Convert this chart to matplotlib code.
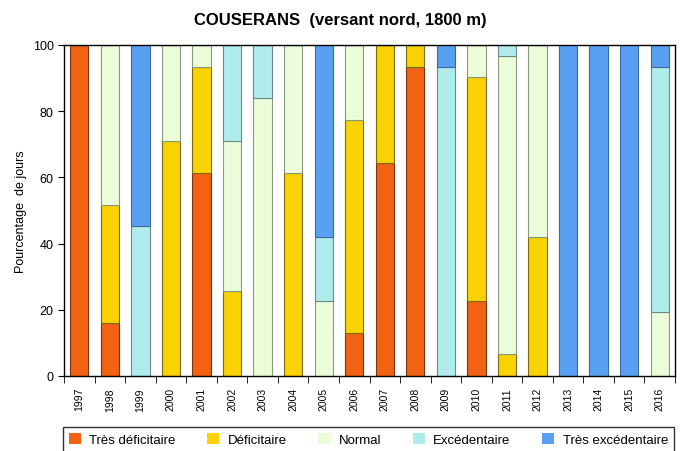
import matplotlib
matplotlib.use("Agg")
import matplotlib.pyplot as plt
import numpy as np

plt.rcParams['font.family'] = ['Liberation Sans', 'DejaVu Sans']

years = [str(y) for y in range(1997, 2017)]
tres_deficitaire = [100, 16.1, 0, 0, 61.3, 0, 0, 0, 0, 12.9, 64.5, 93.5, 0, 22.6, 0, 0, 0, 0, 0, 0]
deficitaire      = [0, 35.5, 0, 71.0, 32.2, 25.8, 0, 61.3, 0, 64.5, 35.5, 6.5, 0, 67.7, 6.5, 41.9, 0, 0, 0, 0]
normal           = [0, 48.4, 0, 29.0, 6.5, 45.2, 83.9, 38.7, 22.6, 22.6, 0, 0, 0, 9.7, 90.3, 58.1, 0, 0, 0, 19.4]
excedentaire     = [0, 0, 45.2, 0, 0, 29.0, 16.1, 0, 19.3, 0, 0, 0, 93.5, 0, 3.2, 0, 0, 0, 0, 74.1]
tres_excedentaire= [0, 0, 54.8, 0, 0, 0, 0, 0, 58.1, 0, 0, 0, 6.5, 0, 0, 0, 100, 100, 100, 6.5]

series = [
    ("Très déficitaire", tres_deficitaire, "#F26212", "#7a3208"),
    ("Déficitaire", deficitaire, "#FAD200", "#7a6a10"),
    ("Normal", normal, "#EBFDD8", "#8a9a80"),
    ("Excédentaire", excedentaire, "#B0ECEC", "#6a8a8a"),
    ("Très excédentaire", tres_excedentaire, "#5AA0F2", "#3a6aa0"),
]

fig = plt.figure(figsize=(6.81, 4.52), dpi=100)
ax = fig.add_axes([64/681, 75/452, 611/681, 331/452])

x = np.arange(len(years))
bottom = np.zeros(len(years))
handles = []
for name, vals, col, ec in series:
    v = np.array(vals, dtype=float)
    b = ax.bar(x, v, bottom=bottom, width=0.6, color=col, edgecolor=ec, linewidth=0.8, label=name)
    handles.append(b)
    bottom += v

ax.set_xlim(-0.5, len(years) - 0.5)
ax.set_ylim(0, 100)
ax.set_yticks([0, 20, 40, 60, 80, 100])
ax.tick_params(axis='y', labelsize=9, direction='out', length=4)
ax.set_xticks(x)
ax.set_xticklabels(years, rotation=90, fontsize=7.5)
ax.tick_params(axis='x', which='major', length=0, pad=8)
ax.set_xticks(np.arange(-0.5, len(years), 1.0), minor=True)
ax.tick_params(axis='x', which='minor', length=5, direction='out')
ax.set_ylabel("Pourcentage  de jours", fontsize=9)
for s in ax.spines.values():
    s.set_linewidth(1.0)

fig.text(0.5, 0.955, "COUSERANS  (versant nord, 1800 m)", ha='center', va='center',
         fontsize=12, fontweight='bold')

leg_handles = [plt.Rectangle((0, 0), 1, 1, facecolor=col, edgecolor='none') for _, _, col, _ in series]
leg = fig.legend(leg_handles, [s[0] for s in series], loc='upper left',
                 bbox_to_anchor=(63/681, 1 - 428/452), borderaxespad=0,
                 ncol=5, fontsize=9.5, frameon=True, fancybox=False, edgecolor='black',
                 handlelength=0.92, handleheight=0.92, columnspacing=2.4, handletextpad=0.62,
                 borderpad=0.45)
leg.get_frame().set_linewidth(1.0)

fig.savefig("out.png", dpi=100)
